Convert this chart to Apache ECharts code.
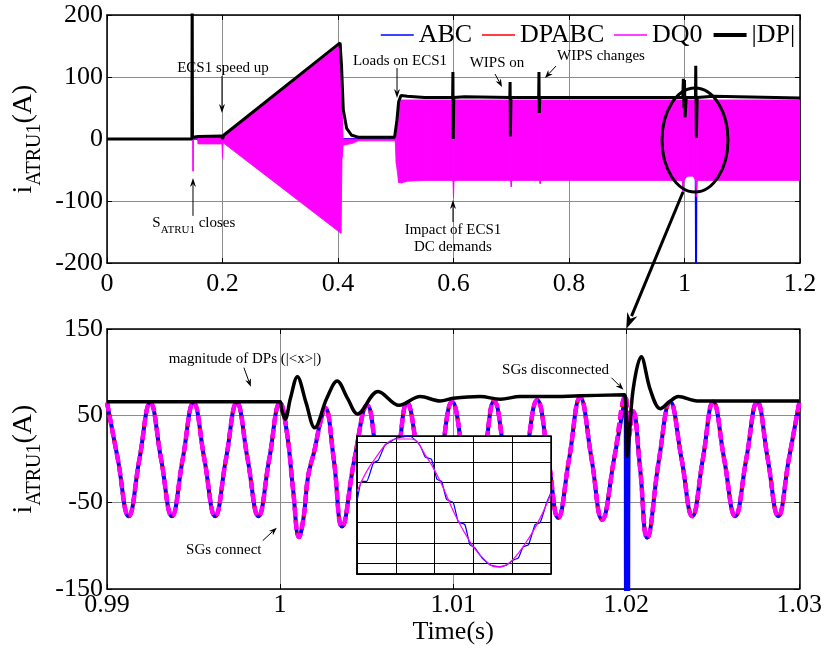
<!DOCTYPE html>
<html><head><meta charset="utf-8">
<script src="https://cdn.jsdelivr.net/npm/echarts@6/dist/echarts.min.js"></script>
<style>html,body{margin:0;padding:0;background:#fff}#c{width:825px;height:650px}</style>
</head><body><div id="c"></div>
<script>
// ================= DATA =================
// Top panel (0 - 1.2 s)
const topXTicks = [0, 0.2, 0.4, 0.6, 0.8, 1.0, 1.2];
const topYTicks = [-200, -100, 0, 100, 200];
// |DP| magnitude, top panel
const dpTopT = [0, 0.147, 0.1475, 0.148, 0.158, 0.199, 0.2, 0.202, 0.4035, 0.406, 0.4092, 0.415, 0.4237, 0.435, 0.498, 0.502, 0.505, 0.509, 0.52, 0.55,
  0.5985, 0.599, 0.5995, 0.6005, 0.619, 0.62, 0.622, 0.6975, 0.698, 0.6985, 0.6995, 0.7475, 0.748, 0.7485, 0.7495, 0.85, 0.997, 0.998, 0.999, 1.0, 1.001, 1.003,
  1.019, 1.0195, 1.0205, 1.022, 1.05, 1.2];
const dpTopV = [0, 0, 260, 3, 4, 5, 0, 6, 155, 120, 47, 17, 6, 3, 3, 30, 60, 70, 69, 67,
  67, 108, 0, 67, 68, 71, 68, 67, 92, 4, 67, 67, 108, 42, 67, 67, 67, 97, 50, 95, 35, 67,
  67, 118, 2, 67, 69, 66];
// DQ0 envelope (upper / lower) of the dense 400 Hz waveform, top panel
const dq0EnvT = [0, 0.1485, 0.149, 0.1495, 0.157, 0.158, 0.199, 0.2, 0.201, 0.405, 0.407, 0.409, 0.415, 0.425, 0.435, 0.499, 0.501, 0.505, 0.51, 0.52, 0.55,
  0.599, 0.6, 0.601, 0.699, 0.7, 0.701, 0.749, 0.75, 0.751, 0.996, 0.9975, 0.999, 1.005, 1.015, 1.019, 1.0205, 1.022, 1.2];
const dq0EnvUp = [0, 0, 0, 0, 0, 2, 3, 3, 4, 153, 40, 0, 0, 0, 0, 0, 30, 60, 63, 63, 63,
  63, 63, 63, 63, 63, 63, 63, 63, 63, 63, 63, 63, 63, 63, 63, 63, 63, 63];
const dq0EnvLo = [0, 0, -52, 0, 0, -8, -8, -31, -6, -152, -30, -10, -9, -7, -3, -3, -40, -70, -71, -68, -67,
  -67, -95, -67, -67, -77, -67, -67, -72, -67, -67, -88, -67, -60, -60, -67, -93, -67, -67];
// ABC visible parts in the top panel
const abcTopT = [0, 0.5, 0.51, 1.0195, 1.02, 1.0205];
const abcTopV = [0, 0, null, -66, -215, -66];

// Bottom panel (0.99 - 1.03 s)
const zoomT = [0.99, 0.990625, 0.99125, 0.991875, 0.9925, 0.993125, 0.99375, 0.994375, 0.995, 0.995625, 0.99625, 0.996875, 0.9975, 0.998125, 0.99875, 0.999375,
  1.0, 1.0004, 1.00075, 1.0011, 1.00137, 1.00162, 1.002, 1.0023, 1.0026, 1.0031, 1.00358, 1.0043, 1.00503, 1.0056, 1.0062, 1.0068, 1.00734, 1.008, 1.0087, 1.0093,
  1.00994, 1.0106, 1.0112, 1.0118, 1.01237, 1.013, 1.0136, 1.0142, 1.01486, 1.0155, 1.01607, 1.0167, 1.01734, 1.018, 1.01861, 1.0193, 1.01995,
  1.02015, 1.0204, 1.0208, 1.02121, 1.0219, 1.02254, 1.0232, 1.02382, 1.02443, 1.02503, 1.02566, 1.0263, 1.02694, 1.02757, 1.02818, 1.02879, 1.0294, 1.03];
const zoomV = [65, 0, -66, 0, 65, 0, -66, 0, 65, 0, -66, 0, 65, 0, -66, 0,
  65, 30, -35, -90, -66, -20, 11, 40, 59, 0, -78, 0, 62, 0, -72, 0, 65, 0, -70, 0,
  66, 0, -69, 0, 67, 0, -68, 0, 68, 0, -68, 0, 71, 0, -70, 0, 72,
  25, 55, -10, -91, 0, 66, 0, -66, 0, 66, 0, -66, 0, 66, 0, -66, 0, 65];
// ABC extra samples: switching spike at 1.02 s
const abcSpikeT = [1.02001, 1.02009];
const abcSpikeV = [-175, -175];
// |DP| magnitude, bottom panel
const dpZoomT = [0.99, 1.0, 1.00008, 1.0003, 1.0006, 1.001, 1.0015, 1.002, 1.0027, 1.0033, 1.0039, 1.00448, 1.00566, 1.00688, 1.0081, 1.00925, 1.01, 1.01156,
  1.01272, 1.01387, 1.0155, 1.01734, 1.0199, 1.02005, 1.0204, 1.02087, 1.02139, 1.02197, 1.0225, 1.02301, 1.0241, 1.03];
const dpZoomV = [66, 66, 58, 46, 70, 95, 65, 36, 70, 90, 70, 52, 78, 62, 72, 67, 70, 72,
  69, 72, 72, 73, 74, 3, 80, 118, 80, 58, 66, 72, 67, 67];

// Inset (one cycle, time in ms)
const insetDq0T = [0, 0.21, 0.51, 0.70, 0.89, 1.06, 1.275, 1.49, 1.66, 1.79, 1.96, 2.175, 2.35, 2.5];
const insetDq0V = [11, 41, 63, 63, 46, 23, -14, -43, -58, -64, -60, -40, -17, 9];
const insetAbcT = [0, 0.06, 0.125, 0.21, 0.275, 0.36, 0.425, 0.51, 0.68, 0.81, 0.88, 0.96, 1.03, 1.09, 1.155, 1.24, 1.305, 1.39, 1.455, 1.52, 1.61,
  1.715, 1.84, 1.93, 2.015, 2.08, 2.14, 2.21, 2.295, 2.36, 2.445, 2.5];
const insetAbcV = [1, 21, 21, 39, 42, 57, 60, 64, 66, 57, 45, 43, 23, 21, 3, 0, -19, -22, -42, -45, -55,
  -62, -64, -62, -57, -55, -44, -42, -22, -20, 0, 10];

// ================= CHART =================
const FONT = '"Liberation Serif", "Times New Roman", serif';
const GRID_COLOR = '#8c8c8c';
const chart = echarts.init(document.getElementById('c'));

const pairs = (T, V) => T.map((t, i) => [t, V[i] === null ? '-' : V[i]]);
const abcZoom = pairs(zoomT, zoomV).concat(pairs(abcSpikeT, abcSpikeV)).sort((a, b) => a[0] - b[0]);
const bandData = dq0EnvT.map((t, i) => [t, dq0EnvUp[i], dq0EnvLo[i]]);

function fmtTop(v) { return String(+v.toFixed(1)); }
function fmtBot(v) { return String(+v.toFixed(2)); }

function xAx(gi, min, max, interval, position, labels, fmt, extra, margin) {
  return Object.assign({
    type: 'value', gridIndex: gi, min: min, max: max, interval: interval, position: position,
    axisLine: { show: true, onZero: false, lineStyle: { color: '#000', width: 1.5 } },
    axisTick: { show: true, inside: true, length: 5, lineStyle: { color: '#000' } },
    axisLabel: { show: labels, color: '#000', fontFamily: FONT, fontSize: 26, margin: margin == null ? 4 : margin, formatter: fmt },
    splitLine: { show: labels, lineStyle: { color: GRID_COLOR, width: 1 } }
  }, extra || {});
}
const yName = {
  name: '{m|i}{s|ATRU1}{m|(A)}{z| }', nameLocation: 'middle', nameGap: 56, nameRotate: 90,
  nameTextStyle: {
    rich: {
      m: { fontFamily: FONT, fontSize: 28, color: '#000', lineHeight: 28, verticalAlign: 'top' },
      s: { fontFamily: FONT, fontSize: 20, color: '#000', lineHeight: 20, verticalAlign: 'bottom' },
      z: { fontFamily: FONT, fontSize: 1, lineHeight: 35, verticalAlign: 'bottom' }
    }
  }
};

const lineBase = { type: 'line', showSymbol: false, symbol: 'none', animation: false };
const WAVE_SMOOTH = 0.45;

chart.setOption({
  animation: false,
  backgroundColor: '#fff',
  grid: [
    { left: 107, top: 15, width: 693, height: 248 },
    { left: 107, top: 329, width: 693, height: 260 },
    { left: 357, top: 436, width: 194, height: 138, show: true, backgroundColor: '#fff', borderColor: '#000', borderWidth: 1.5, z: 10 }
  ],
  legend: {
    left: 380, top: 22, padding: 0, itemWidth: 33, itemHeight: 14, itemGap: 9,
    textStyle: { fontFamily: FONT, fontSize: 26, color: '#000' },
    itemStyle: { opacity: 0, borderWidth: 0 },
    lineStyle: { width: 1.5, type: 'solid' },
    data: [
      { name: 'ABC' }, { name: 'DPABC' }, { name: 'DQ0' },
      { name: '|DP|', lineStyle: { width: 4, type: 'solid' } }
    ]
  },
  xAxis: [
    xAx(0, 0, 1.2, 0.2, 'bottom', true, fmtTop, null, 8),
    xAx(0, 0, 1.2, 0.2, 'top', false, null),
    xAx(1, 0.99, 1.03, 0.01, 'bottom', true, fmtBot, {
      name: 'Time(s)', nameLocation: 'middle', nameGap: 21,
      nameTextStyle: { fontFamily: FONT, fontSize: 26, color: '#000' }
    }, 3),
    xAx(1, 0.99, 1.03, 0.01, 'top', false, null),
    {
      type: 'value', gridIndex: 2, min: 0, max: 2.5, interval: 0.5, z: 11,
      axisLine: { show: true, onZero: false, lineStyle: { color: '#000', width: 1.5 } },
      axisTick: { show: true, inside: true, length: 2, lineStyle: { color: '#000' } },
      axisLabel: { show: false },
      splitLine: { show: true, lineStyle: { color: '#000', width: 1 } }
    }
  ],
  yAxis: [
    xAx(0, -200, 200, 100, 'left', true, null, yName),
    xAx(0, -200, 200, 100, 'right', false, null),
    xAx(1, -150, 150, 100, 'left', true, null, yName),
    xAx(1, -150, 150, 100, 'right', false, null),
    {
      type: 'value', gridIndex: 2, min: -71, max: 66, splitNumber: 7, z: 11,
      axisLine: { show: true, onZero: false, lineStyle: { color: '#000', width: 1.5 } },
      axisTick: { show: true, inside: true, length: 2, lineStyle: { color: '#000' } },
      axisLabel: { show: false },
      splitLine: { show: true, lineStyle: { color: '#000', width: 1 } }
    }
  ],
  series: [
    // bottom panel
    Object.assign({}, lineBase, { name: 'ABC', xAxisIndex: 2, yAxisIndex: 2, data: abcZoom, smooth: WAVE_SMOOTH, z: 3,
      lineStyle: { color: '#0000ff', width: 4 }, itemStyle: { color: '#0000ff' } }),
    Object.assign({}, lineBase, { name: 'DPABC', xAxisIndex: 2, yAxisIndex: 2, data: pairs(zoomT, zoomV), smooth: WAVE_SMOOTH, z: 4,
      lineStyle: { color: '#ff0000', width: 4, type: [8, 5], dashOffset: 1 }, itemStyle: { color: '#ff0000' } }),
    Object.assign({}, lineBase, { name: 'DQ0', xAxisIndex: 2, yAxisIndex: 2, data: pairs(zoomT, zoomV), smooth: WAVE_SMOOTH, z: 5,
      lineStyle: { color: '#ff00ff', width: 4.5, type: [9, 4] }, itemStyle: { color: '#ff00ff' } }),
    Object.assign({}, lineBase, { name: '|DP|', xAxisIndex: 2, yAxisIndex: 2, data: pairs(dpZoomT, dpZoomV), smooth: 0.35, z: 6,
      lineStyle: { color: '#000', width: 3.5 }, itemStyle: { color: '#000' } }),
    // top panel
    Object.assign({}, lineBase, { name: 'ABC', xAxisIndex: 0, yAxisIndex: 0, data: pairs(abcTopT, abcTopV), z: 3,
      lineStyle: { color: '#0000ff', width: 2 } }),
    {
      type: 'custom', name: 'DQ0', xAxisIndex: 0, yAxisIndex: 0, data: bandData, z: 4, clip: true,
      encode: { x: 0, y: [1, 2] },
      renderItem: function (params, api) {
        const i = params.dataIndexInside;
        if (i >= params.dataInsideLength - 1) return { type: 'group', children: [] };
        const t0 = api.value(0, i), t1 = api.value(0, i + 1);
        const pts = [
          api.coord([t0, api.value(1, i)]), api.coord([t1, api.value(1, i + 1)]),
          api.coord([t1, api.value(2, i + 1)]), api.coord([t0, api.value(2, i)])
        ];
        return { type: 'polygon', shape: { points: pts }, style: { fill: '#ff00ff', stroke: '#ff00ff', lineWidth: 0.8 } };
      }
    },
    Object.assign({}, lineBase, { name: '|DP|', xAxisIndex: 0, yAxisIndex: 0, data: pairs(dpTopT, dpTopV), z: 6,
      lineStyle: { color: '#000', width: 3 } }),
    // inset
    Object.assign({}, lineBase, { name: 'ABC', xAxisIndex: 4, yAxisIndex: 4, data: pairs(insetAbcT, insetAbcV), smooth: 0.15, z: 20,
      lineStyle: { color: '#0000ff', width: 1.2 } }),
    Object.assign({}, lineBase, { name: 'DQ0', xAxisIndex: 4, yAxisIndex: 4, data: pairs(insetDq0T, insetDq0V), smooth: 0.4, z: 21,
      lineStyle: { color: '#ff00ff', width: 1.2 } })
  ]
});

// ================= ANNOTATIONS (data coordinates) =================
const topAx = { xAxisIndex: 0, yAxisIndex: 0 };
const botAx = { xAxisIndex: 2, yAxisIndex: 2 };
function P(ax, t, v) { return chart.convertToPixel(ax, [t, v]); }

function arrow(p1, p2, w, hl, hw) {
  const dx = p2[0] - p1[0], dy = p2[1] - p1[1], L = Math.hypot(dx, dy);
  const ux = dx / L, uy = dy / L, nx = -uy, ny = ux;
  const b = [p2[0] - ux * hl, p2[1] - uy * hl];
  return [
    { type: 'line', z: 50, silent: true, shape: { x1: p1[0], y1: p1[1], x2: b[0] + ux * 2, y2: b[1] + uy * 2 }, style: { stroke: '#000', lineWidth: w } },
    { type: 'polygon', z: 50, silent: true, shape: { points: [p2, [b[0] + nx * hw / 2, b[1] + ny * hw / 2], [p2[0] - ux * hl * 0.7, p2[1] - uy * hl * 0.7], [b[0] - nx * hw / 2, b[1] - ny * hw / 2]] }, style: { fill: '#000' } }
  ];
}
function label(p, text, extra) {
  return {
    type: 'text', z: 50, silent: true, x: p[0], y: p[1],
    style: Object.assign({ text: text, fill: '#000', font: '15px ' + FONT, align: 'center', verticalAlign: 'middle' }, extra || {})
  };
}

const g = [];
// top panel notes
g.push(label(P(topAx, 0.2009, 114.5), 'ECS1 speed up'));
g.push(...arrow(P(topAx, 0.1991, 101.6), P(topAx, 0.1991, 41.9), 1, 9, 6));
g.push(label(P(topAx, 0.1506, -140), '{a|S}{b|ATRU1}{a| closes}{z| }', {
  rich: {
    a: { fontFamily: FONT, fontSize: 15, fill: '#000', lineHeight: 15, verticalAlign: 'top' },
    b: { fontFamily: FONT, fontSize: 11, fill: '#000', lineHeight: 11, verticalAlign: 'bottom' },
    z: { fontFamily: FONT, fontSize: 1, lineHeight: 20, verticalAlign: 'bottom' }
  }
}));
g.push(...arrow(P(topAx, 0.1489, -124), P(topAx, 0.1489, -63), 1, 9, 6));
g.push(label(P(topAx, 0.5074, 125.8), 'Loads on ECS1'));
g.push(...arrow(P(topAx, 0.5022, 114.5), P(topAx, 0.5022, 66.1), 1, 9, 6));
g.push(label(P(topAx, 0.6753, 122.6), 'WIPS on'));
g.push(...arrow(P(topAx, 0.6719, 104.8), P(topAx, 0.684, 83.9), 1, 8, 6));
g.push(label(P(topAx, 0.8554, 133.9), 'WIPS changes'));
g.push(...arrow(P(topAx, 0.7775, 117.7), P(topAx, 0.7584, 98.4), 1, 8, 6));
g.push(label(P(topAx, 0.5991, -160.5), 'Impact of ECS1\nDC demands', { lineHeight: 17 }));
g.push(...arrow(P(topAx, 0.5991, -133.9), P(topAx, 0.5991, -98.4), 1, 9, 6));
// ellipse and link arrow
const ec = P(topAx, 1.0182, -1.6);
const ex = P(topAx, 1.0753, -1.6), ey = P(topAx, 1.0182, -85.5);
g.push({ type: 'ellipse', z: 50, silent: true, shape: { cx: ec[0], cy: ec[1], rx: Math.abs(ex[0] - ec[0]), ry: Math.abs(ey[1] - ec[1]) },
  style: { fill: 'none', stroke: '#000', lineWidth: 3 } });
g.push(...arrow(P(topAx, 0.9974, -85.5), P(botAx, 1.02, 150), 3, 16, 11));
// bottom panel notes
g.push(label(P(botAx, 0.99797, 115.7), 'magnitude of DPs (|<x>|)'));
g.push(...arrow(P(botAx, 0.99791, 105.4), P(botAx, 0.99831, 83.4), 1, 8, 6));
g.push(label(P(botAx, 0.99675, -104.6), 'SGs connect'));
g.push(...arrow(P(botAx, 0.9990, -94.2), P(botAx, 0.99981, -79.2), 1, 8, 6));
g.push(label(P(botAx, 1.01592, 103), 'SGs disconnected'));
g.push(...arrow(P(botAx, 1.01915, 93.8), P(botAx, 1.01984, 80), 1, 8, 6));

chart.setOption({ graphic: g });
</script>
</body></html>
